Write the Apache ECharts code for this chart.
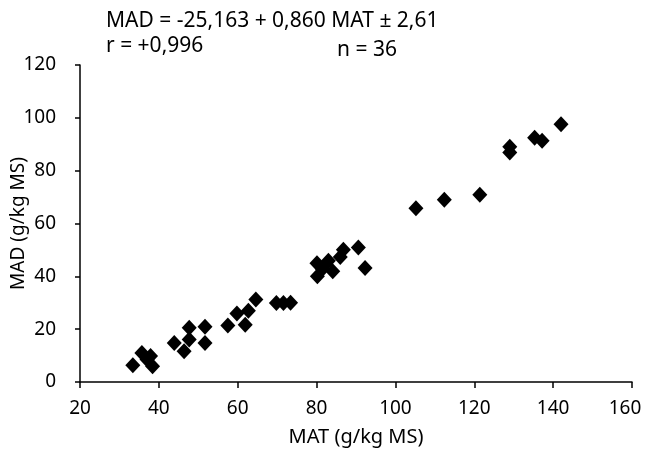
<!DOCTYPE html>
<html>
<head>
<meta charset="utf-8">
<script src="https://cdn.jsdelivr.net/npm/echarts@6/dist/echarts.min.js"></script>
<style>
html,body{margin:0;padding:0;background:#fff;}
#chart{width:645px;height:458px;}
</style>
</head>
<body>
<div id="chart"></div>
<script>
// MAT (g/kg MS) values
const matValues = [33.4, 35.7, 37.9, 38.4, 37.0, 43.9, 46.4, 47.7, 47.7, 51.7, 51.7, 57.5, 59.8, 61.9, 62.7, 64.6,
  69.8, 71.6, 73.4, 80.1, 83.0, 80.2, 84.1, 81.5, 86.0, 86.8, 90.6, 92.3,
  105.2, 112.4, 121.4, 129.0, 129.0, 135.3, 137.2, 142.0];
// MAD (g/kg MS) values
const madValues = [6.3, 11.0, 9.8, 6.0, 8.5, 14.8, 11.6, 16.1, 20.5, 20.9, 14.8, 21.4, 25.9, 21.7, 27.0, 31.2,
  29.9, 29.9, 30.0, 45.0, 45.9, 40.0, 41.9, 42.8, 47.3, 50.1, 50.9, 43.2,
  65.8, 69.0, 70.9, 89.1, 86.9, 92.5, 91.3, 97.6];
const xTicks = [20, 40, 60, 80, 100, 120, 140, 160];
const yTicks = [0, 20, 40, 60, 80, 100, 120];
const xTitle = 'MAT (g/kg MS)';
const yTitle = 'MAD (g/kg MS)';
const eqLine = 'MAD = -25,163 + 0,860 MAT ± 2,61';
const rLine = 'r = +0,996';
const nLine = 'n = 36';

const points = matValues.map((v, i) => [v, madValues[i]]);
const FONT = 'Noto Sans';
const FS = 19;
const xMax = xTicks[xTicks.length - 1];
const chart = echarts.init(document.getElementById('chart'), null, {renderer: 'canvas'});
chart.setOption({
  animation: false,
  backgroundColor: '#fff',
  grid: {left: 80, right: 13, top: 65, bottom: 76, containLabel: false, outerBoundsMode: 'none'},
  xAxis: {
    type: 'value', min: xTicks[0], max: xMax, interval: 20,
    name: xTitle, nameLocation: 'middle', nameGap: 45, nameMoveOverlap: false,
    nameTextStyle: {fontFamily: FONT, fontSize: 20, color: '#000'},
    axisLine: {show: true, lineStyle: {color: '#000', width: 1.5}},
    axisTick: {show: true, length: 6, lineStyle: {color: '#000', width: 1.5}},
    axisLabel: {
      fontFamily: FONT, fontSize: FS, color: '#000', margin: 17,
      formatter: v => v === xMax ? '{last|' + v + '}' : String(v),
      rich: {last: {fontFamily: FONT, fontSize: FS, color: '#000', padding: [0, 14, 0, 0]}}
    },
    splitLine: {show: false}
  },
  yAxis: {
    type: 'value', min: yTicks[0], max: yTicks[yTicks.length - 1], interval: 20,
    name: yTitle, nameLocation: 'middle', nameGap: 52, nameRotate: 90, nameMoveOverlap: false,
    nameTextStyle: {fontFamily: FONT, fontSize: FS, color: '#000'},
    axisLine: {show: true, lineStyle: {color: '#000', width: 1.5}},
    axisTick: {show: true, length: 5, lineStyle: {color: '#000', width: 1.5}},
    axisLabel: {fontFamily: FONT, fontSize: FS, color: '#000', margin: 24},
    splitLine: {show: false}
  },
  graphic: [
    {type: 'text', x: 106, y: 11, style: {text: eqLine, font: '21px "Noto Sans"', fill: '#000', textVerticalAlign: 'top'}},
    {type: 'text', x: 106, y: 36, style: {text: rLine, font: '21px "Noto Sans"', fill: '#000', textVerticalAlign: 'top'}},
    {type: 'text', x: 337, y: 40, style: {text: nLine, font: '21px "Noto Sans"', fill: '#000', textVerticalAlign: 'top'}}
  ],
  series: [{
    type: 'scatter',
    data: points,
    symbol: 'diamond',
    symbolSize: [15, 16],
    itemStyle: {color: '#000', opacity: 1}
  }]
});
</script>
</body>
</html>
